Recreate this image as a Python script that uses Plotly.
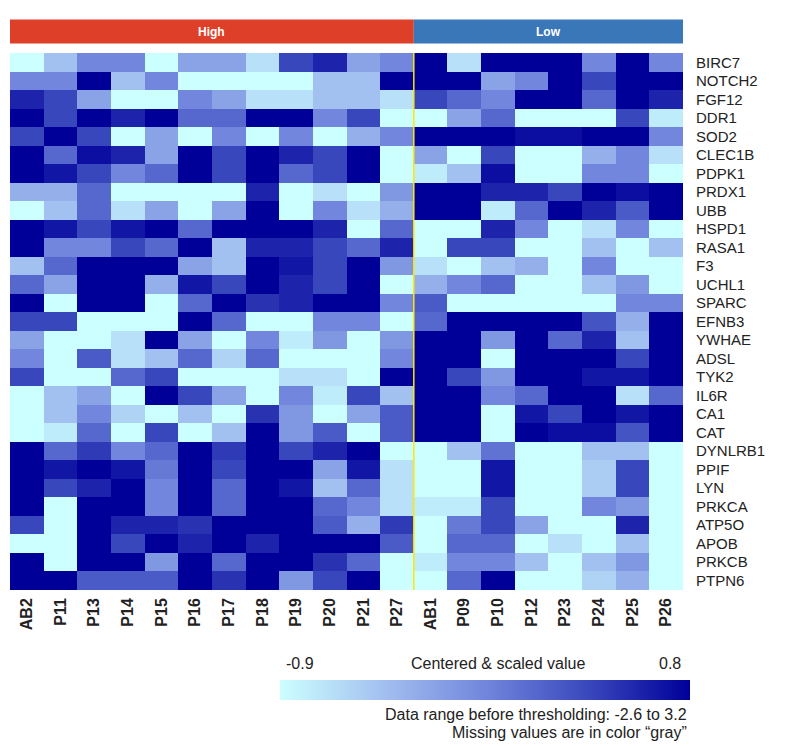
import plotly.graph_objects as go

genes = ["BIRC7", "NOTCH2", "FGF12", "DDR1", "SOD2", "CLEC1B", "PDPK1", "PRDX1", "UBB",
         "HSPD1", "RASA1", "F3", "UCHL1", "SPARC", "EFNB3", "YWHAE", "ADSL", "TYK2", "IL6R",
         "CA1", "CAT", "DYNLRB1", "PPIF", "LYN", "PRKCA", "ATP5O", "APOB", "PRKCB", "PTPN6"]

high_samples = ["AB2", "P11", "P13", "P14", "P15", "P16", "P17", "P18", "P19", "P20", "P21", "P27"]
low_samples = ["AB1", "P09", "P10", "P12", "P23", "P24", "P25", "P26"]

# centered & scaled values (thresholded to [-0.9, 0.8]), one row per gene
high_values = [
    [-0.9, -0.48, -0.05, -0.05, -0.9, -0.26, -0.26, -0.69, 0.38, 0.59, -0.26, -0.05],
    [-0.05, -0.05, 0.8, -0.48, -0.05, -0.9, -0.9, -0.9, -0.9, -0.48, -0.48, 0.8],
    [0.59, 0.38, -0.26, -0.9, -0.9, -0.05, -0.26, -0.69, -0.69, -0.48, -0.48, -0.69],
    [0.8, 0.38, 0.8, 0.59, 0.8, 0.16, 0.16, 0.8, 0.8, -0.05, 0.38, -0.9],
    [0.38, 0.8, 0.38, -0.9, -0.26, -0.9, -0.05, -0.9, -0.05, -0.9, -0.35, -0.05],
    [0.8, 0.16, 0.72, 0.59, -0.26, 0.8, 0.38, 0.8, 0.59, 0.38, 0.8, -0.9],
    [0.8, 0.67, 0.38, -0.05, 0.16, 0.8, 0.38, 0.8, 0.16, 0.38, 0.8, -0.9],
    [-0.35, -0.35, 0.16, -0.9, -0.9, -0.9, -0.9, 0.59, -0.9, -0.69, -0.9, -0.18],
    [-0.9, -0.48, 0.16, -0.69, -0.26, -0.9, -0.26, 0.8, -0.9, -0.05, -0.69, -0.35],
    [0.8, 0.67, 0.38, 0.67, 0.8, 0.16, 0.8, 0.8, 0.8, 0.59, -0.9, 0.16],
    [0.8, -0.05, -0.05, 0.38, 0.16, 0.8, -0.48, 0.59, 0.59, 0.38, 0.16, 0.59],
    [-0.48, 0.16, 0.8, 0.8, 0.8, -0.26, -0.48, 0.8, 0.67, 0.38, 0.8, -0.18],
    [0.16, -0.26, 0.8, 0.8, -0.35, 0.67, 0.38, 0.8, 0.59, 0.38, 0.8, -0.9],
    [0.8, -0.9, 0.8, 0.8, -0.9, 0.16, 0.8, 0.5, 0.59, 0.8, 0.8, -0.05],
    [0.38, 0.38, -0.9, -0.9, -0.9, 0.8, 0.16, -0.9, -0.9, -0.05, -0.05, -0.9],
    [-0.26, -0.9, -0.9, -0.69, 0.8, -0.26, -0.9, -0.05, -0.77, -0.18, -0.9, -0.18],
    [-0.05, -0.9, 0.25, -0.69, -0.48, 0.16, -0.6, 0.16, -0.9, -0.9, -0.9, -0.05],
    [0.38, -0.9, -0.9, 0.16, 0.38, -0.9, -0.9, -0.9, -0.69, -0.69, -0.9, 0.8],
    [-0.9, -0.48, -0.26, -0.9, 0.8, 0.38, -0.26, -0.9, -0.05, -0.77, 0.38, -0.48],
    [-0.9, -0.48, -0.05, -0.6, -0.9, -0.48, -0.9, 0.5, -0.18, -0.9, -0.26, 0.25],
    [-0.9, -0.77, 0.16, -0.9, 0.38, -0.9, -0.48, 0.8, -0.18, 0.25, -0.9, 0.25],
    [0.8, 0.16, 0.46, -0.05, 0.16, 0.8, 0.46, 0.8, 0.38, 0.59, 0.8, -0.9],
    [0.8, 0.67, 0.8, 0.67, 0.04, 0.8, 0.38, 0.8, 0.8, -0.26, 0.67, -0.69],
    [0.8, 0.38, 0.59, 0.8, -0.05, 0.8, 0.16, 0.8, 0.67, -0.48, 0.16, -0.69],
    [0.8, -0.9, 0.8, 0.8, -0.05, 0.8, 0.16, 0.8, 0.8, 0.16, -0.05, -0.69],
    [0.38, -0.9, 0.8, 0.59, 0.59, 0.5, 0.8, 0.8, 0.8, 0.25, -0.35, 0.46],
    [-0.9, -0.9, 0.8, 0.38, 0.8, 0.59, 0.8, 0.59, 0.8, 0.8, 0.8, 0.25],
    [0.8, -0.9, 0.8, 0.8, -0.18, 0.8, 0.16, 0.8, 0.8, 0.5, 0.16, -0.9],
    [0.8, 0.8, 0.25, 0.25, 0.25, 0.8, 0.5, 0.8, -0.18, 0.38, 0.8, -0.9],
]

low_values = [
    [0.8, -0.69, 0.8, 0.8, 0.8, -0.05, 0.8, -0.05],
    [0.8, 0.8, -0.26, -0.05, 0.8, 0.38, 0.8, 0.8],
    [0.38, 0.16, -0.05, 0.8, 0.8, 0.16, 0.8, 0.59],
    [-0.9, -0.26, 0.16, -0.9, -0.9, -0.9, 0.38, -0.77],
    [0.8, 0.8, 0.8, 0.72, 0.72, 0.8, 0.8, -0.05],
    [-0.26, -0.9, 0.38, -0.9, -0.9, -0.35, -0.05, -0.69],
    [-0.77, -0.48, 0.72, -0.9, -0.9, -0.05, -0.05, -0.9],
    [0.8, 0.8, 0.59, 0.59, 0.38, 0.8, 0.72, 0.8],
    [0.8, 0.8, -0.77, 0.16, 0.8, 0.59, 0.25, 0.8],
    [-0.9, -0.9, 0.59, -0.05, -0.9, -0.69, -0.05, -0.9],
    [-0.9, 0.38, 0.38, -0.9, -0.9, -0.48, -0.9, -0.48],
    [-0.69, -0.9, -0.48, -0.35, -0.9, -0.05, -0.9, -0.9],
    [-0.35, -0.05, 0.16, -0.9, -0.9, -0.48, -0.18, -0.9],
    [0.25, -0.9, -0.9, -0.9, -0.9, -0.9, -0.05, -0.05],
    [0.16, 0.8, 0.8, 0.8, 0.8, 0.29, -0.35, 0.8],
    [0.8, 0.8, -0.18, 0.8, 0.16, 0.59, -0.48, 0.8],
    [0.8, 0.8, -0.9, 0.8, 0.8, 0.8, 0.38, 0.8],
    [0.8, 0.38, -0.18, 0.8, 0.8, 0.67, 0.67, 0.8],
    [0.8, 0.8, -0.05, 0.16, 0.8, 0.8, -0.69, 0.16],
    [0.8, 0.8, -0.9, 0.67, 0.38, 0.8, 0.67, 0.8],
    [0.8, 0.8, -0.9, 0.8, 0.72, 0.72, 0.29, 0.8],
    [-0.9, -0.48, 0.08, -0.9, -0.9, -0.48, -0.48, -0.9],
    [-0.9, -0.9, 0.67, -0.9, -0.9, -0.56, 0.38, -0.9],
    [-0.9, -0.9, 0.67, -0.9, -0.9, -0.56, 0.38, -0.9],
    [-0.77, -0.77, 0.38, -0.9, -0.9, -0.05, -0.18, -0.9],
    [-0.9, 0.04, 0.38, -0.26, -0.9, -0.9, 0.59, -0.9],
    [-0.9, 0.16, 0.16, -0.9, -0.69, -0.9, -0.48, -0.9],
    [-0.77, -0.05, -0.05, -0.48, -0.9, -0.48, -0.18, -0.9],
    [-0.9, 0.16, 0.8, -0.9, -0.9, -0.6, -0.35, -0.9],
]

groups = ["High", "Low"]
group_colors = ["#de3f28", "#3a77b9"]
zmin, zmax = -0.9, 0.8

samples = high_samples + low_samples
z = [h + l for h, l in zip(high_values, low_values)]

colorscale = [[0.0, "#ccffff"], [0.25, "#a3c0f0"], [0.5, "#7186dc"],
              [0.75, "#3a48bd"], [1.0, "#000099"]]

# page body has an 8px margin; work in reference-page pixels and shift
OFF = 8
W, H = 800 - OFF, 746 - OFF
plot_left, plot_right, plot_top, plot_bottom = 10, 683, 52.5, 590
L = plot_left - OFF
R = W - (plot_right - OFF)
T = plot_top - OFF
B = H - (plot_bottom - OFF)
pw, ph = W - L - R, H - T - B


def px_x(x):
    return (x - plot_left) / pw


def px_y(y):
    return (plot_bottom - y) / ph


fig = go.Figure()
fig.add_trace(go.Heatmap(
    z=z, x=samples, y=genes, zmin=zmin, zmax=zmax, colorscale=colorscale,
    xgap=0, ygap=0,
    colorbar=dict(orientation="h", lenmode="pixels", len=410, thickness=20,
                  x=px_x(280), xanchor="left", y=px_y(680), yanchor="top",
                  xpad=0, ypad=0, outlinewidth=0, showticklabels=False, ticks=""),
))

# group header bars
n_high = len(high_samples)
bounds = [(-0.5, n_high - 0.5), (n_high - 0.5, len(samples) - 0.5)]
for (x0, x1), g, c in zip(bounds, groups, group_colors):
    fig.add_shape(type="rect", xref="x", yref="paper", x0=x0, x1=x1,
                  y0=px_y(43), y1=px_y(19), fillcolor=c, line_width=0)
    fig.add_annotation(x=(x0 + x1) / 2, xref="x", y=px_y(31), yref="paper",
                       text=g, showarrow=False, yanchor="middle", xanchor="center",
                       font=dict(family="Arial", size=12, color="white", weight="bold"))

# yellow separator
fig.add_shape(type="line", xref="x", yref="paper", x0=n_high - 0.5, x1=n_high - 0.5,
              y0=0, y1=1, line=dict(color="#ffe600", width=1.5))

txt = dict(family="Arial", size=16, color="#222222")
fig.add_annotation(x=px_x(300), y=px_y(664), xref="paper", yref="paper", text=f"{zmin}",
                   showarrow=False, font=txt, xanchor="center", yanchor="middle")
fig.add_annotation(x=px_x(498), y=px_y(664), xref="paper", yref="paper",
                   text="Centered & scaled value", showarrow=False, font=txt,
                   xanchor="center", yanchor="middle")
fig.add_annotation(x=px_x(670), y=px_y(664), xref="paper", yref="paper", text=f"{zmax}",
                   showarrow=False, font=txt, xanchor="center", yanchor="middle")
fig.add_annotation(x=px_x(689), y=px_y(715), xref="paper", yref="paper",
                   text="Data range before thresholding: -2.6 to 3.2", showarrow=False,
                   font=txt, xanchor="right", yanchor="middle")
fig.add_annotation(x=px_x(689), y=px_y(733), xref="paper", yref="paper",
                   text="Missing values are in color \u201cgray\u201d", showarrow=False,
                   font=txt, xanchor="right", yanchor="middle")

fig.update_xaxes(tickangle=-90, tickfont=dict(family="Arial", size=16, color="#222222",
                                               weight="bold"),
                 tickmode="array", tickvals=samples, ticktext=samples,
                 showgrid=False, zeroline=False, ticks="", ticklabelstandoff=4)
fig.update_yaxes(autorange="reversed", side="right", showgrid=False, zeroline=False,
                 tickmode="array", tickvals=genes, ticktext=genes,
                 ticks="", ticklabelstandoff=12,
                 tickfont=dict(family="Arial", size=15, color="#222222"))

fig.update_layout(width=W, height=H, margin=dict(l=L, r=R, t=T, b=B),
                  paper_bgcolor="white", plot_bgcolor="white")

fig.write_html("out.html")
